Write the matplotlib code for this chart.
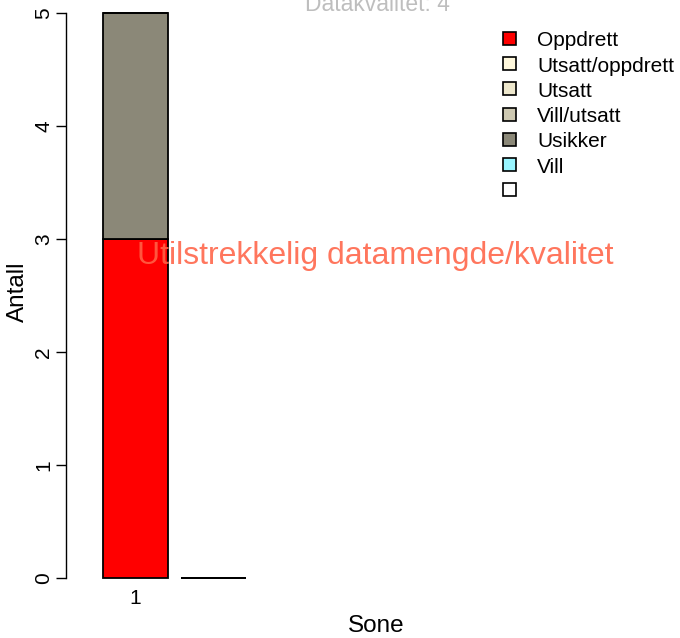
import numpy as np
import matplotlib
matplotlib.use("Agg")
import matplotlib.pyplot as plt
from matplotlib.patches import Rectangle

plt.rcParams['font.family'] = ['Liberation Sans', 'DejaVu Sans']

# data
soner = ["1", ""]
kategorier = ["Oppdrett", "Utsatt/oppdrett", "Utsatt", "Vill/utsatt", "Usikker", "Vill", ""]
farger = ["#FF0000", "#FFF8DC", "#EEE8CD", "#CDC8B1", "#8B8878", "#98F5FF", "#FFFFFF"]
oppdrett = [3, 0]
utsatt_oppdrett = [0, 0]
utsatt = [0, 0]
vill_utsatt = [0, 0]
usikker = [2, 0]
vill = [0, 0]
serier = [oppdrett, utsatt_oppdrett, utsatt, vill_utsatt, usikker, vill]

W, H = 680, 638
fig = plt.figure(figsize=(W/100, H/100), dpi=100)
ax = fig.add_axes([66/W, 60/H, (660-66)/W, (578-13)/H])

x = np.array([0.7, 1.9])  # R barplot: width 1, space 0.2
bunn = np.zeros(len(x))
for verdier, farge in zip(serier, farger):
    ax.bar(x, verdier, width=1.0, bottom=bunn, color=farge, edgecolor="black",
           linewidth=1.3, clip_on=False)
    bunn = bunn + np.array(verdier)

ax.set_xlim(-0.369, -0.369 + (660-66)/65)
ax.set_ylim(0, 5)
for s in ["top", "right", "bottom"]:
    ax.spines[s].set_visible(False)
ax.spines["left"].set_linewidth(1.0)
ax.set_yticks([0, 1, 2, 3, 4, 5])
ax.set_yticklabels(["0", "1", "2", "3", "4", "5"], rotation=90, va="center", fontsize=15)
ax.tick_params(axis="y", length=7, width=1.0, pad=2)
ax.set_xticks(x)
ax.set_xticklabels(soner, fontsize=15)
ax.tick_params(axis="x", length=0, pad=8)

fig.text(376/W, 1 - 632/H, "Sone", ha="center", va="baseline", fontsize=17.5)
fig.text(24/W, 1 - 292/H, "Antall", ha="center", va="baseline", rotation=90,
         fontsize=17.5, rotation_mode="anchor")
fig.text(377/W, 1 - 11/H, "Datakvalitet: 4", ha="center", va="baseline", fontsize=16.5,
         color="#BEBEBE")
fig.text(375/W, 1 - 264/H, "Utilstrekkelig datamengde/kvalitet", ha="center",
         va="baseline", fontsize=23, color="#FF6347", alpha=0.88)

# legend, R style
for i, (kat, farge) in enumerate(zip(kategorier, farger)):
    yc = 38.5 + i * 25.2
    fig.patches.append(Rectangle(((509 - 6.5)/W, 1 - (yc + 6.5)/H), 13/W, 13/H,
                                 facecolor=farge, edgecolor="black", linewidth=1.2,
                                 transform=fig.transFigure))
    fig.text(537/W, 1 - (yc + 8)/H, kat, ha="left", va="baseline", fontsize=15)

fig.savefig("out.png", dpi=100)
